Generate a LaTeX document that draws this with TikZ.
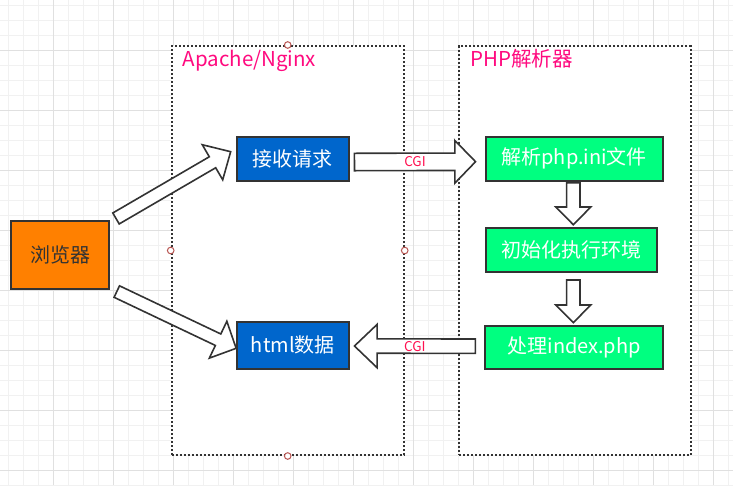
\documentclass[tikz,border=0pt]{standalone}
\usepackage{fontspec}
\setmainfont{Noto Sans CJK SC}
\usetikzlibrary{calc}
\definecolor{minorg}{HTML}{F1F1F1}
\definecolor{majorg}{HTML}{E0E0E0}
\definecolor{edge}{HTML}{333333}
\definecolor{bluebox}{HTML}{0066CC}
\definecolor{greenbox}{HTML}{00FF80}
\definecolor{orangebox}{HTML}{FF8000}
\definecolor{titlecol}{HTML}{FF0A7F}
\definecolor{cgicol}{HTML}{FF1050}
\definecolor{handle}{HTML}{B85450}
\tikzset{
  minorline/.style={draw=minorg,line width=1pt},
  majorline/.style={draw=majorg,line width=1pt},
  container/.style={draw=edge,fill=white,line width=2pt,dash pattern=on 2pt off 2pt,rectangle,inner sep=0pt},
  handlecirc/.style={draw=handle,fill=white,line width=1pt,circle,inner sep=0pt,minimum size=6.6pt},
  titletext/.style={text=titlecol,font=\fontsize{20.5}{23}\selectfont,inner sep=0pt,anchor=base west},
  boxbase/.style={draw=edge,line width=2pt,rectangle,inner sep=0pt,font=\fontsize{20}{23}\selectfont},
  bluenode/.style={boxbase,fill=bluebox,text=white,minimum width=112.3pt,minimum height=44pt},
  greennode/.style={boxbase,fill=greenbox,text=white,minimum height=44pt},
  orangenode/.style={boxbase,fill=orangebox,text=edge,minimum width=98pt,minimum height=67.5pt},
  barrow/.style={draw=edge,fill=white,line width=1.6pt,line join=miter},
  cgitext/.style={text=cgicol,font=\fontsize{13.5}{15}\selectfont,inner sep=0pt}
}
\newcommand\blockarr[5]{%
  \coordinate (ba-q) at ($(#2)!#5!(#1)$);
  \draw[barrow] ($(#1)!#3!90:(#2)$) -- ($(ba-q)!#3!-90:(#1)$) -- ($(ba-q)!#4!-90:(#1)$) -- (#2)
    -- ($(ba-q)!#4!90:(#1)$) -- ($(ba-q)!#3!90:(#1)$) -- ($(#1)!#3!-90:(#2)$) -- cycle;}
\begin{document}
\begin{tikzpicture}[x=1pt,y=-1pt]
\useasboundingbox (0,0) rectangle (733,485);
\fill[white] (0,0) rectangle (733,485);
% grid
\foreach \x in {8,23,...,728} \draw[minorline] (\x,0) -- (\x,485);
\foreach \y in {5,20,...,485} \draw[minorline] (0,\y) -- (733,\y);
\foreach \x in {53,113,...,713} \draw[majorline] (\x,0) -- (\x,485);
\foreach \y in {50,110,...,470} \draw[majorline] (0,\y) -- (733,\y);
% containers
\node[container,minimum width=232pt,minimum height=409pt] (apache) at (287.7,250.5) {};
\node[container,minimum width=231.7pt,minimum height=409pt] (php) at (574.85,250.5) {};
\foreach \a in {north,south,west,east} \node[handlecirc] (h-\a) at (apache.\a) {};
\node[titletext] (t1) at (182.5,66) {Apache/Nginx};
\node[titletext] (t2) at (470,66) {PHP解析器};
% nodes
\node[orangenode] (browser) at (60,255) {浏览器};
\node[bluenode] (recv) at (292.8,158.7) {接收请求};
\node[bluenode,minimum height=47.3pt] (html) at (292.8,345.3) {html数据};
\node[greennode,minimum width=177.3pt] (parse) at (574.2,158.7) {解析php.ini文件};
\node[greennode,minimum width=171.6pt] (init) at (571.5,249.7) {初始化执行环境};
\node[greennode,minimum width=177.7pt,minimum height=43.3pt] (proc) at (574.2,347.3) {处理index.php};
% arrow end points
\coordinate (a1s) at ($(browser.north east)+(6,-1.8)$);
\coordinate (a1e) at ($(recv.west)+(-5,-7)$);
\coordinate (a2s) at ($(browser.south east)+(6.8,1.8)$);
\coordinate (a2e) at ($(html.west)+(0.5,3)$);
\coordinate (a3s) at ($(recv.east)+(4.5,3.3)$);
\coordinate (a3e) at ($(parse.west)+(-9,3)$);
\coordinate (a4s) at ($(proc.west)+(-9,-1.1)$);
\coordinate (a4e) at ($(html.east)+(4.5,0.7)$);
\coordinate (a5s) at ($(parse.south)+(-0.9,1)$);
\coordinate (a5e) at ($(init.north)+(1.8,-2)$);
\coordinate (a6s) at ($(init.south)+(1.8,7.3)$);
\coordinate (a6e) at ($(proc.north)+(-0.9,-2)$);
% arrows
\blockarr{a1s}{a1e}{6.35pt}{20.3pt}{21pt}
\blockarr{a2s}{a2e}{6.35pt}{20.4pt}{20pt}
\blockarr{a3s}{a3e}{8.7pt}{21.3pt}{20.7pt}
\blockarr{a4s}{a4e}{7.2pt}{21.7pt}{22.7pt}
\blockarr{a5s}{a5e}{6.7pt}{17.5pt}{17.7pt}
\blockarr{a6s}{a6e}{6.7pt}{17.5pt}{17.7pt}
\node[cgitext] (cgi1) at ($(a3s)!0.5!(a3e)$) {CGI};
\node[cgitext] (cgi2) at ($(a4s)!0.5!(a4e)$) {CGI};
\end{tikzpicture}
\end{document}
